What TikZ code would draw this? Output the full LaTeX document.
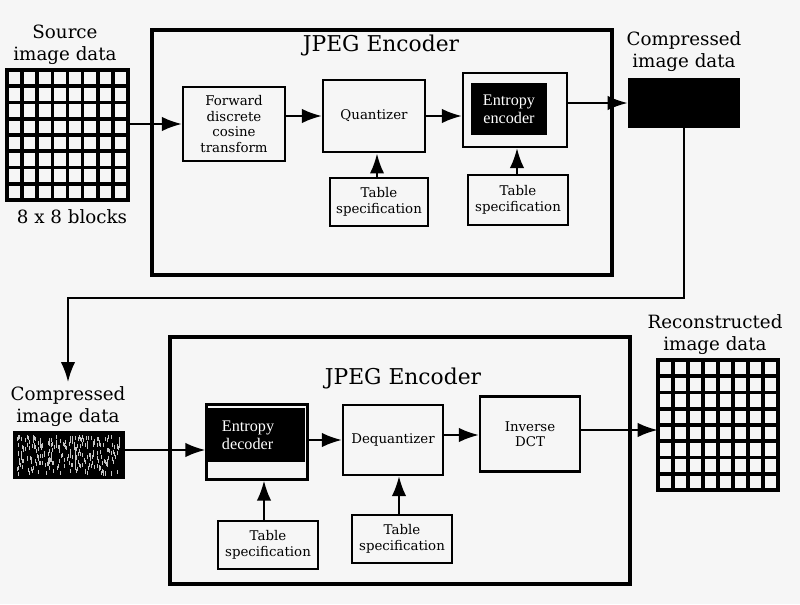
\documentclass[tikz,border=0pt]{standalone}
\usepackage{fontspec}
\setmainfont{DejaVu Serif}
\newfontfamily\timesfont{Liberation Serif}
\usetikzlibrary{arrows.meta, positioning}

\begin{document}
\begin{tikzpicture}[x=0.025cm, y=-0.025cm,
    >={Latex[length=5mm,width=3.6mm]},
    block/.style={draw, line width=1.5pt, align=center, font=\fontsize{9.5}{11}\selectfont},
    tabbox/.style={block, minimum width=2.45cm, minimum height=1.2cm},
    inkbox/.style={fill=black, text=white, align=center, font=\timesfont\fontsize{11.5}{13}\selectfont},
    bigtext/.style={align=center, font=\fontsize{13}{15.6}\selectfont},
    flow/.style={->, line width=1.6pt},
    frame/.style={draw, line width=2.6pt},
    gridline/.style={line width=2.6pt, line cap=rect}]

    \fill[gray!7] (0,0) rectangle (800,604);
    \useasboundingbox (0,0) rectangle (800,604);

    % encoder
    \draw[frame] (152,30) rectangle (612,275);
    \node[font=\fontsize{15.5}{18}\selectfont] (enctitle) at (381,45) {JPEG Encoder};

    \node[bigtext] (lblsrc) at (65,45) {Source\\image data};
    \foreach \i in {0,...,8} {
        \draw[gridline] (7+\i*15.125,70) -- (7+\i*15.125,200);
        \draw[gridline] (7,70+\i*16.25) -- (128,70+\i*16.25);
    }
    \node[inner sep=0, minimum width=3.025cm, minimum height=3.25cm] (grid1) at (67.5,135) {};
    \node[bigtext] (lblblk) at (72,217) {8 x 8 blocks};

    \node[block, minimum width=2.55cm, minimum height=1.85cm] (fdct) at (234,124) {Forward\\discrete\\cosine\\transform};
    \node[block, minimum width=2.55cm, minimum height=1.82cm] (quant) at (374,116) {Quantizer};
    \node[block, minimum width=2.6cm, minimum height=1.85cm] (enc) at (515,110) {};
    \node[inkbox, minimum width=1.9cm, minimum height=1.3cm] (enctxt) at (509,109) {Entropy\\encoder};
    \node[tabbox] (tab1) at (379,202) {Table\\specification};
    \node[tabbox, minimum width=2.5cm, minimum height=1.25cm] (tab2) at (518,200) {Table\\specification};

    \node[bigtext] (lblc1) at (684,52) {Compressed\\image data};
    \node[fill=black, minimum width=2.8cm, minimum height=1.25cm] (comp1) at (684,103) {};

    \draw[flow] (grid1.east |- fdct) -- (fdct.west);
    \draw[flow] (fdct.east |- quant) -- (quant.west);
    \draw[flow] (quant.east) -- (quant.east -| enc.west);
    \draw[flow] (enc.east |- comp1) -- (comp1.west);
    \draw[flow] (tab1.north -| 377,0) -- (quant.south -| 377,0);
    \draw[flow] (tab2.north -| 517,0) -- (enc.south -| 517,0);

    % link down to the decoder side
    \node[bigtext] (lblc2) at (68,407) {Compressed\\image data};
    \coordinate (turn) at (0,298);
    \draw[flow] (comp1.south) -- (comp1.south |- turn) -| (lblc2.north);

    % decoder
    \draw[frame] (170,337) rectangle (630,584);
    \node[font=\fontsize{15.5}{18}\selectfont] (dectitle) at (403,378) {JPEG Encoder};

    \node[fill=black, minimum width=2.8cm, minimum height=1.18cm] (comp2) at (69,455) {};
    \pgfmathsetseed{11}
    \foreach \k in {1,...,260} {
        \pgfmathsetmacro{\sx}{17+103*rnd}
        \pgfmathsetmacro{\sy}{435+37*rnd}
        \fill[gray!45] (\sx,\sy) rectangle ++(1,4);
    }

    \node[block, minimum width=2.525cm, minimum height=1.875cm] (dec) at (257,442) {};
    \node[inkbox, minimum width=2.45cm, minimum height=1.35cm, inner xsep=0.375cm, text width=1.7cm, align=left] (dectxt) at (256,435) {Entropy\\decoder};
    \node[block, minimum width=2.5cm, minimum height=1.75cm] (deq) at (393,440) {Dequantizer};
    \node[block, minimum width=2.5cm, minimum height=1.875cm] (idct) at (530,434) {Inverse\\DCT};
    \node[tabbox, minimum width=2.5cm] (tab3) at (268,545) {Table\\specification};
    \node[tabbox, minimum width=2.5cm] (tab4) at (402,539) {Table\\specification};

    \node[bigtext] (lblrec) at (715,335) {Reconstructed\\image data};
    \foreach \i in {0,...,8} {
        \draw[gridline] (658+\i*15,360) -- (658+\i*15,490);
        \draw[gridline] (658,360+\i*16.25) -- (778,360+\i*16.25);
    }
    \node[inner sep=0, minimum width=3cm, minimum height=3.25cm] (grid2) at (718,425) {};

    \draw[flow] (comp2.east |- 0,450) -- (dec.west |- 0,450);
    \draw[flow] (dec.east |- 0,440) -- (deq.west |- 0,440);
    \draw[flow] (deq.east |- 0,435) -- (idct.west |- 0,435);
    \draw[flow] (idct.east |- 0,430) -- (grid2.west |- 0,430);
    \draw[flow] (tab3.north -| 264,0) -- (dec.south -| 264,0);
    \draw[flow] (tab4.north -| 399,0) -- (deq.south -| 399,0);
\end{tikzpicture}
\end{document}
